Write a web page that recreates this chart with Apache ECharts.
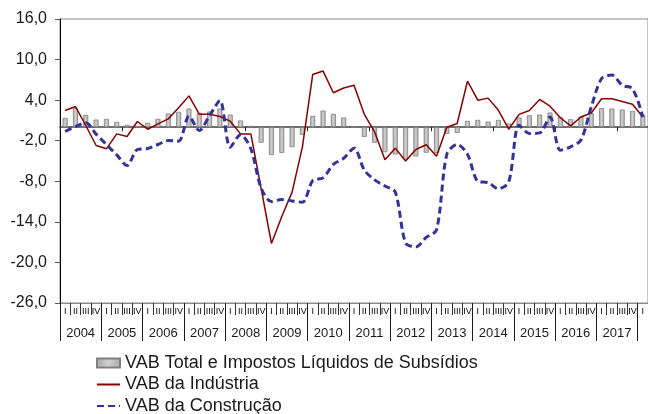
<!DOCTYPE html>
<html><head><meta charset="utf-8">
<script src="https://cdn.jsdelivr.net/npm/echarts@6/dist/echarts.min.js"></script>
<style>html,body{margin:0;padding:0;background:#fff}#c{width:648px;height:414px}</style>
</head><body><div id="c"></div>
<script>
// ---- data ----
const years = ['2004','2005','2006','2007','2008','2009','2010','2011','2012','2013','2014','2015','2016','2017'];
const quarterNames = ['I','II','III','IV'];
// 2004 Q1 ... 2018 Q1 (57 quarters)
const categories = [];
years.forEach(y => quarterNames.forEach(q => categories.push(y + ' ' + q)));
categories.push('2018 I');

const vabTotal = [1.38,2.86,1.82,1.13, 1.23,0.79,0.34,0.2, 0.64,1.23,2.02,2.27, 2.76,2.12,2.32,2.76,
  1.87,0.99,0.2,-2.3, -4.1,-3.8,-2.96,-1.13, 1.67,2.46,1.97,1.43, 0.05,-1.43,-2.3,-3.7,
  -4.04,-4.78,-4.33,-3.79, -3.8,-0.99,-0.84,0.94, 1.08,0.84,1.08,0.54, 1.43,1.77,1.87,2.17,
  1.53,1.18,1.58,2.07, 2.81,2.76,2.61,2.41, 1.87];
const vabIndustria = [2.46,3.05,0.25,-2.71, -3.2,-0.99,-1.38,0.84, -0.3,0.49,1.23,2.86, 4.63,1.92,1.92,1.58,
  0.89,-0.99,-0.99,-9.1, -17.2,-13.2,-9.6,-2.9, 7.8,8.3,5.1,5.8, 6.2,1.9,-0.7,-4.8,
  -3.1,-5.0,-3.3,-2.6, -4.3,0.0,0.54,6.8, 4.0,4.3,2.5,-0.3, 1.9,2.46,4.1,3.1,
  1.4,0.2,1.5,2.1, 4.2,4.2,3.8,3.4, 1.5];
const vabConstrucao = [-0.64,0.1,0.64,-1.03, -2.56,-4.1,-5.67,-3.3, -3.15,-2.56,-1.97,-2.07, 1.63,-0.5,1.72,3.94,
  -2.96,-1.1,-3.2,-9.0, -11.0,-10.7,-10.9,-11.1, -7.9,-7.5,-5.5,-4.6, -3.1,-6.35,-7.8,-8.7,
  -9.6,-17.1,-17.7,-16.3, -15.2,-4.0,-2.55,-4.0, -8.0,-8.2,-9.1,-8.1, 0.3,-0.93,-0.84,1.5,
  -3.4,-2.9,-1.9,3.0, 7.2,7.7,6.2,5.7, 1.5];
const yTicks = [-26,-20,-14,-8,-2,4,10,16];
const seriesNames = ['VAB Total e Impostos Líquidos de Subsídios','VAB da Indústria','VAB da Construção'];

// year axis positions (in quarter units)
const yearSeparators = years.map((y, i) => i * 4).concat([years.length * 4]);
const yearCenters = years.map((y, i) => i * 4 + 2);

const FONT = '"Liberation Sans", Arial, sans-serif';
const chart = echarts.init(document.getElementById('c'), null, {renderer: 'canvas'});
chart.setOption({
  animation: false,
  backgroundColor: '#ffffff',
  textStyle: {fontFamily: FONT},
  grid: {left: 60, right: 0, top: 19, bottom: 111, show: true, borderColor: '#8c8c8c', borderWidth: 1, backgroundColor: 'transparent'},
  legend: {
    orient: 'vertical', left: 91, top: 349, height: 80, itemWidth: 23, itemHeight: 9, itemGap: 3.5,
    textStyle: {fontSize: 18, lineHeight: 18, color: '#1a1a1a', fontFamily: FONT},
    data: [
      {name: seriesNames[0], icon: 'rect'},
      {name: seriesNames[1], itemStyle: {opacity: 0}},
      {name: seriesNames[2], itemStyle: {opacity: 0}}
    ]
  },
  xAxis: [
    {
      type: 'category', data: categories, gridIndex: 0,
      axisLine: {onZero: true, lineStyle: {color: '#404040', width: 1.5}},
      axisTick: {show: true, length: 4, lineStyle: {color: '#202020'}},
      axisLabel: {show: false}, splitLine: {show: false}
    },
    {
      type: 'category', data: categories, gridIndex: 0, position: 'bottom',
      axisLine: {onZero: false, show: true, lineStyle: {color: '#8c8c8c'}},
      axisTick: {show: true, length: 12, lineStyle: {color: '#333'}},
      axisLabel: {show: true, interval: 0, margin: 4, fontSize: 9, color: '#000',
        formatter: v => v.split(' ')[1]},
      splitLine: {show: false}
    },
    {
      type: 'value', gridIndex: 0, position: 'bottom', min: 0, max: categories.length,
      axisLine: {onZero: false, show: false},
      axisTick: {show: true, length: 38, customValues: yearSeparators, lineStyle: {color: '#1a1a1a'}},
      axisLabel: {show: true, margin: 24, fontSize: 13, color: '#1a1a1a', customValues: yearCenters,
        formatter: v => years[(v - 2) / 4] || ''},
      splitLine: {show: false}
    }
  ],
  yAxis: {
    type: 'value', min: -26, max: 16,
    axisLine: {show: true, lineStyle: {color: '#000', width: 1}},
    axisTick: {show: true, length: 5, customValues: yTicks, lineStyle: {color: '#555'}},
    axisLabel: {customValues: yTicks, margin: 13, fontSize: 16, color: '#1a1a1a',
      formatter: v => v.toFixed(1).replace('.', ',')},
    splitLine: {show: false}
  },
  series: [
    {
      name: seriesNames[0], type: 'bar', data: vabTotal, barWidth: 5,
      itemStyle: {color: new echarts.graphic.LinearGradient(0, 0, 1, 0, [
        {offset: 0, color: '#a6a6a6'}, {offset: 0.5, color: '#d0d0d0'}, {offset: 1, color: '#a6a6a6'}]),
        borderColor: '#808080', borderWidth: 0.8}
    },
    {
      name: seriesNames[1], type: 'line', data: vabIndustria, symbol: 'none',
      lineStyle: {color: '#8b0000', width: 1.5}, itemStyle: {color: '#8b0000'}, z: 3
    },
    {
      name: seriesNames[2], type: 'line', data: vabConstrucao, symbol: 'none', smooth: 0.3,
      lineStyle: {color: '#333399', width: 3, type: [7, 4]}, itemStyle: {color: '#333399'}, z: 4
    }
  ]
});
</script></body></html>
